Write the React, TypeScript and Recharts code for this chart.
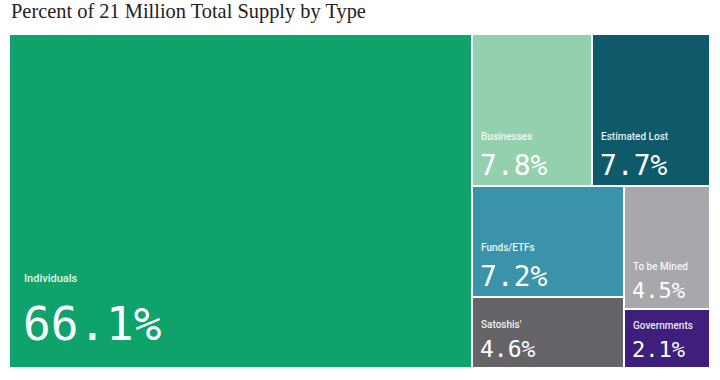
import React from "react";
import { Treemap } from "recharts";

const TITLE = "Percent of 21 Million Total Supply by Type";
const names = ["Individuals", "Businesses", "Estimated Lost", "Funds/ETFs", "Satoshis'", "To be Mined", "Governments"];
const values = [66.1, 7.8, 7.7, 7.2, 4.6, 4.5, 2.1];

const COLORS: Record<string, string> = {
  Individuals: "#0fa36b",
  Businesses: "#93d0ad",
  "Estimated Lost": "#0e5a6a",
  "Funds/ETFs": "#3a93a8",
  "Satoshis'": "#666468",
  "To be Mined": "#a8a8ac",
  Governments: "#3e1f7c",
};

const data = names.map((name, i) => ({ name, value: values[i] }));

const Cell = (props: any) => {
  const { x, y, width, height, name, value, depth } = props;
  if (depth !== 1) return null;
  const s = Math.sqrt(width * height);
  const big = s > 300;
  const fs = big ? 46 : s >= 120 ? 28 : width >= 120 ? 23 : 22;
  const padL = big ? 15 : 9;
  const valueY = y + height - (big ? 28 : 11);
  const labelY = valueY - Math.round(fs * 1.25);
  return (
    <g>
      <rect x={x} y={y} width={width} height={height} fill={COLORS[name]} stroke="#ffffff" strokeWidth={2} />
      <text
        x={x + padL}
        y={labelY}
        fill="#ffffff"
        fillOpacity={0.92}
        fontFamily="Roboto, 'Liberation Sans', sans-serif"
        fontWeight={500}
        fontSize={big ? 11 : 10}
      >
        {name}
      </text>
      <text
        x={x + padL - 1}
        y={valueY}
        fill="#ffffff"
        fontFamily="'DejaVu Sans Mono', monospace"
        fontSize={fs}
      >
        {`${value.toFixed(1)}%`}
      </text>
    </g>
  );
};

export default function App() {
  return (
    <div style={{ position: "absolute", left: 0, top: 0, width: 720, height: 380, background: "#ffffff" }}>
      <div
        style={{
          position: "absolute",
          left: 11,
          top: 1,
          fontFamily: "'Liberation Serif', 'DejaVu Serif', serif",
          fontSize: 20.4,
          lineHeight: "21px",
          color: "#222222",
          whiteSpace: "nowrap",
        }}
      >
        {TITLE}
      </div>
      <div style={{ position: "absolute", left: 9, top: 34 }}>
        <Treemap
          width={701}
          height={334}
          data={data}
          dataKey="value"
          nameKey="name"
          isAnimationActive={false}
          content={<Cell />}
        />
      </div>
    </div>
  );
}
